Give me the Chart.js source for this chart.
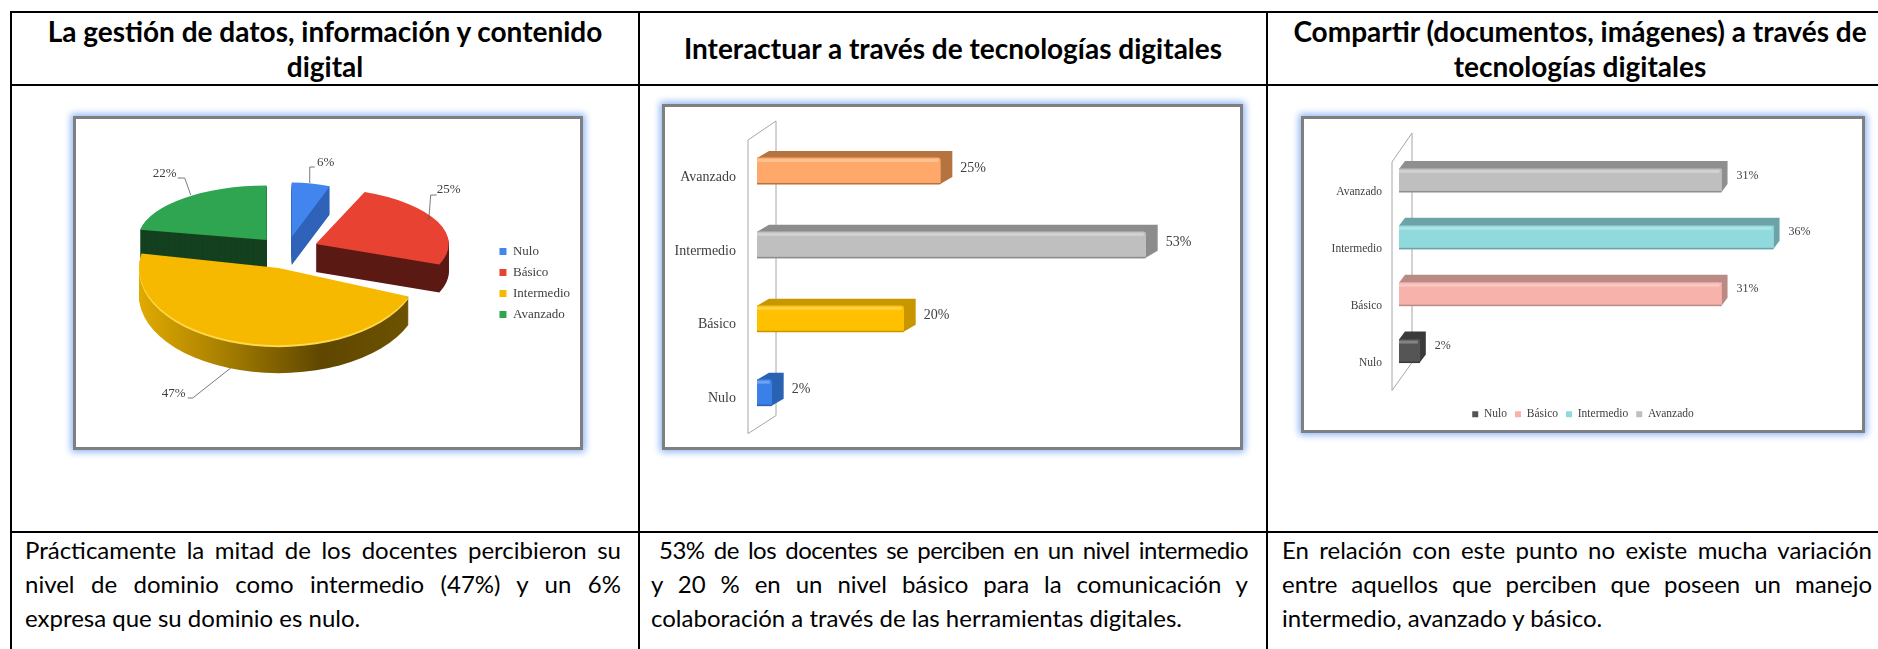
<!DOCTYPE html>
<html>
<head>
<meta charset="utf-8">
<script src="https://cdn.jsdelivr.net/npm/chart.js@4"></script>
<style>
  html,body{margin:0;padding:0;background:#fff;overflow:hidden;width:1878px;height:649px}
  table{position:absolute;left:10px;top:11px;border-collapse:collapse;table-layout:fixed;width:1882px;font-family:Lato,sans-serif;color:#000}
  td{border:2px solid #000;padding:0;vertical-align:top}
  .head td{height:71px;font-weight:700;font-size:28px;line-height:35px;text-align:center;vertical-align:middle}
  .mid td{height:445px}
  .txt td{height:130px;font-size:24px;line-height:34px;padding-top:0}
  .j{text-align:justify;text-align-last:justify;white-space:nowrap}
  .frame{position:absolute;box-sizing:border-box;border:3px solid #7f7f7f;background:#fff;box-shadow:0 0 7px 2px #8ab4f8}
  canvas{display:block}
</style>
</head>
<body>
<table>
  <colgroup><col style="width:628px"><col style="width:628px"><col style="width:626px"></colgroup>
  <tr class="head">
    <td>La gestión de datos, información y contenido<br>digital</td>
    <td>Interactuar a través de tecnologías digitales</td>
    <td>Compartir (documentos, imágenes) a través de<br>tecnologías digitales</td>
  </tr>
  <tr class="mid"><td></td><td></td><td></td></tr>
  <tr class="txt">
    <td style="padding-left:13px;padding-right:17px">
      <div class="j">Prácticamente la mitad de los docentes percibieron su</div>
      <div class="j">nivel de dominio como intermedio (47%) y un 6%</div>
      <div>expresa que su dominio es nulo.</div>
    </td>
    <td style="padding-left:11px;padding-right:18px">
      <div class="j" style="padding-left:8px;letter-spacing:-.5px">53% de los docentes se perciben en un nivel intermedio</div>
      <div class="j">y 20 % en un nivel básico para la comunicación y</div>
      <div>colaboración a través de las herramientas digitales.</div>
    </td>
    <td style="padding-left:14px;padding-right:20px">
      <div class="j">En relación con este punto no existe mucha variación</div>
      <div class="j">entre aquellos que perciben que poseen un manejo</div>
      <div>intermedio, avanzado y básico.</div>
    </td>
  </tr>
</table>

<div class="frame" style="left:73px;top:116px;width:510px;height:334px"><canvas id="pieChart" width="504" height="328"></canvas></div>
<div class="frame" style="left:662px;top:104px;width:581px;height:346px"><canvas id="barChart1" width="575" height="344"></canvas></div>
<div class="frame" style="left:1301px;top:116px;width:564px;height:317px"><canvas id="barChart2" width="558" height="311"></canvas></div>

<script>
const levels=['Nulo','Básico','Intermedio','Avanzado']
const gestionValues=[6,25,47,22]
const interactuarValues=[2,20,53,25]
const compartirValues=[2,31,36,31]

const SERIF='"Liberation Serif", serif'
const TEXT='#404040'

// pie look: colours, per slice shift from the chart centre and squash for the fake perspective
const pieColors=['#4285ee','#e84332','#f7b900','#2fa552']
const pieSides=['#2f62b8','#5c1a14',null,'#14401f']
const pieShift=[[8,-46],[32,-39],[-5,-15],[-17,-43]]
const pieScale=[[0.78,0.41],[1,0.42],[1.05,0.58],[0.97,0.41]]
const pieDepth=28
const pieLabels=[
  {at:[34,-74],line:[[18,-54],[18,-70],[23,-70]]},
  {at:[133,-54],line:[[113,-24],[115,-49],[121,-49]]},
  {at:[-105,126],line:[[-48,100],[-86,130],[-91,130]]},
  {at:[-102,-66],line:[[-76,-45],[-82,-62],[-89,-62]]}
]

const pie3d={
  id:'pie3d',
  beforeDatasetDraw(chart){
    const ctx=chart.ctx
    const arcs=chart.getDatasetMeta(0).data
    const grad=ctx.createLinearGradient(arcs[0].x-133,0,arcs[0].x+133,0)
    grad.addColorStop(0,'#e0aa00')
    grad.addColorStop(0.3,'#a87f00')
    grad.addColorStop(0.65,'#5f4700')
    grad.addColorStop(1,'#6e5300')
    // back slices first so the yellow one lies on top
    ;[3,0,1,2].forEach(i=>{
      const arc=arcs[i]
      const paint=(off,color)=>{
        const keep=arc.options
        arc.options=Object.assign({},keep,{backgroundColor:color})
        ctx.save()
        ctx.translate(arc.x+pieShift[i][0],arc.y+pieShift[i][1]+off)
        ctx.scale(pieScale[i][0],pieScale[i][1])
        ctx.translate(-arc.x,-arc.y)
        arc.draw(ctx)
        ctx.restore()
        arc.options=keep
      }
      for(let d=pieDepth;d>0;d--){
        paint(d,pieSides[i]||grad)
      }
      if(i==2){
        paint(2,'#ffd94d')
      }
      paint(0,pieColors[i])
    })
    ctx.save()
    ctx.font='13px '+SERIF
    ctx.fillStyle=TEXT
    ctx.strokeStyle='#595959'
    ctx.lineWidth=0.8
    ctx.textAlign='center'
    ctx.textBaseline='middle'
    arcs.forEach((arc,i)=>{
      const ax=arc.x+pieShift[i][0]
      const ay=arc.y+pieShift[i][1]
      ctx.beginPath()
      pieLabels[i].line.forEach((p,k)=>{
        if(k==0) ctx.moveTo(ax+p[0],ay+p[1])
        else ctx.lineTo(ax+p[0],ay+p[1])
      })
      ctx.stroke()
      ctx.fillText(gestionValues[i]+'%',ax+pieLabels[i].at[0],ay+pieLabels[i].at[1])
    })
    ctx.restore()
    return false
  }
}

new Chart(document.getElementById('pieChart'),{
  type:'pie',
  data:{
    labels:levels,
    datasets:[{data:gestionValues,backgroundColor:pieColors,borderWidth:0,radius:133}]
  },
  options:{
    responsive:false,
    animation:false,
    devicePixelRatio:1,
    plugins:{
      tooltip:{enabled:false},
      legend:{
        position:'right',
        labels:{boxWidth:7,boxHeight:7,padding:8,color:TEXT,font:{family:SERIF,size:13}}
      }
    }
  },
  plugins:[pie3d]
})

function bar3d(look){
  return {
    id:'bar3d',
    beforeDatasetsDraw(chart){
      const ctx=chart.ctx
      const a=chart.chartArea
      const w=look.wall
      // the thin back wall behind the bars
      ctx.save()
      ctx.strokeStyle='#a6a6a6'
      ctx.lineWidth=1
      ctx.beginPath()
      ctx.moveTo(a.left+w.lx,a.top+w.ltop)
      ctx.lineTo(a.left+w.rx,a.top+w.rtop)
      ctx.lineTo(a.left+w.rx,a.bottom+w.rbot)
      ctx.lineTo(a.left+w.lx,a.bottom+w.lbot)
      ctx.closePath()
      ctx.stroke()
      ctx.restore()
      // top and end faces
      chart.getDatasetMeta(0).data.forEach((bar,i)=>{
        const top=bar.y-bar.height/2
        const bot=bar.y+bar.height/2
        ctx.fillStyle=look.sides[i]
        ctx.beginPath()
        ctx.moveTo(bar.base,top)
        ctx.lineTo(bar.base+look.dx,top-look.dy)
        ctx.lineTo(bar.x+look.dx,top-look.dy)
        ctx.lineTo(bar.x+look.dx,bot-look.dy)
        ctx.lineTo(bar.x,bot)
        ctx.lineTo(bar.base,bot)
        ctx.closePath()
        ctx.fill()
      })
    },
    afterDatasetsDraw(chart){
      const ctx=chart.ctx
      ctx.save()
      ctx.font=look.labelSize+'px '+SERIF
      ctx.textBaseline='middle'
      chart.getDatasetMeta(0).data.forEach((bar,i)=>{
        const top=bar.y-bar.height/2
        const bot=bar.y+bar.height/2
        ctx.fillStyle='rgba(255,255,255,0.28)'
        ctx.fillRect(bar.base,top+1,bar.x-bar.base-2,3)
        ctx.fillStyle=look.sides[i]
        ctx.fillRect(bar.base,bot-1,bar.x-bar.base,1.5)
        ctx.fillStyle=TEXT
        ctx.fillText(look.values[i]+'%',bar.x+look.gap,bar.y-look.lift)
      })
      ctx.restore()
    }
  }
}

function makeBar(id,look){
  return new Chart(document.getElementById(id),{
    type:'bar',
    data:{
      labels:levels,
      datasets:[{data:look.values,backgroundColor:look.colors,barThickness:look.thick,borderRadius:look.round,borderSkipped:'left'}]
    },
    options:{
      indexAxis:'y',
      responsive:false,
      animation:false,
      devicePixelRatio:1,
      layout:{padding:look.padding},
      scales:{
        x:{
          min:0,
          max:look.max,
          display:look.legend,
          grid:{display:false},
          border:{display:false},
          ticks:{display:false},
          afterFit(s){s.height=look.axisGap||0}
        },
        y:{
          reverse:true,
          grid:{display:false},
          border:{display:false},
          ticks:{color:TEXT,padding:look.tickPad,labelOffset:look.tickLift,font:{family:SERIF,size:look.tickSize}},
          afterFit(s){s.width=look.axisWidth}
        }
      },
      plugins:{
        tooltip:{enabled:false},
        legend:{
          display:look.legend,
          position:'bottom',
          labels:{
            boxWidth:6,boxHeight:6,padding:8,color:TEXT,font:{family:SERIF,size:look.tickSize},
            generateLabels(){
              return levels.map((l,i)=>({text:l,fillStyle:look.colors[i],strokeStyle:look.colors[i],lineWidth:0,fontColor:TEXT,hidden:false,index:i}))
            }
          }
        }
      }
    },
    plugins:[bar3d(look)]
  })
}

makeBar('barChart1',{
  values:interactuarValues,
  colors:['#3a80e8','#ffc000','#bfbfbf','#ffa869'],
  sides:['#2a62b3','#c89700','#8c8c8c','#b5743f'],
  max:60,thick:26,round:3,dx:12,dy:7,gap:20,lift:3,labelSize:14,
  tickSize:14,tickPad:13,tickLift:6,axisWidth:92,legend:false,
  padding:{top:27,bottom:6,right:43},
  wall:{lx:-9,rx:19,ltop:6,rtop:-13,lbot:4,rbot:-14}
})

makeBar('barChart2',{
  values:compartirValues,
  colors:['#555555','#f8b2ac','#90d9dd','#bfbfbf'],
  sides:['#3a3a3a','#ba8a85','#6ba3a6','#8f8f8f'],
  max:44.5,thick:23,round:1,dx:6,dy:8,gap:15,lift:5,labelSize:12,
  tickSize:11.5,tickPad:9,tickLift:12,axisWidth:95,legend:true,axisGap:21,
  padding:{top:33,right:0},
  wall:{lx:-7,rx:13,ltop:10,rtop:-19,lbot:11,rbot:-17}
})
</script>
</body>
</html>
